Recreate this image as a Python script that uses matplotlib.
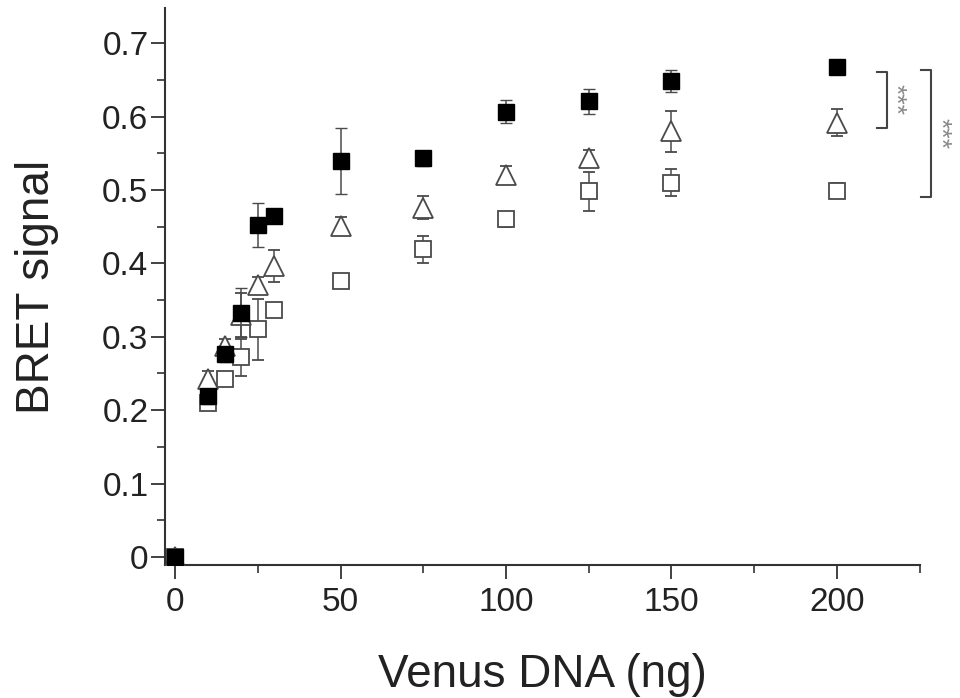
import matplotlib
matplotlib.use("Agg")
import matplotlib.pyplot as plt
from matplotlib.ticker import MultipleLocator

plt.rcParams['font.family'] = ['Liberation Sans', 'DejaVu Sans']

x = [0, 10, 15, 20, 25, 30, 50, 75, 100, 125, 150, 200]
filled_y = [0.0, 0.219, 0.276, 0.333, 0.453, 0.465, 0.540, 0.543, 0.607, 0.621, 0.649, 0.667]
filled_e = [0.0, 0.01, 0.01, 0.033, 0.03, 0.006, 0.045, 0.01, 0.015, 0.017, 0.015, 0.008]
tri_y = [0.0, 0.242, 0.287, 0.330, 0.371, 0.396, 0.451, 0.476, 0.521, 0.544, 0.580, 0.592]
tri_e = [0.01, 0.012, 0.01, 0.03, 0.01, 0.022, 0.012, 0.016, 0.012, 0.01, 0.028, 0.018]
sq_y = [0.0, 0.210, 0.242, 0.272, 0.310, 0.337, 0.376, 0.419, 0.460, 0.498, 0.510, 0.499]
sq_e = [0.005, 0.008, 0.008, 0.025, 0.042, 0.005, 0.008, 0.018, 0.01, 0.026, 0.018, 0.01]

brackets = [(0.585, 0.661), (0.491, 0.664)]
stars = "***"

fig = plt.figure(figsize=(9.6, 6.98), dpi=100)
ax = fig.add_axes([0.172, 0.1905, 0.786, 0.798])

ecol = '#4a4a4a'
ax.errorbar(x, sq_y, yerr=sq_e, fmt='s', ms=12, mfc='white', mec=ecol, mew=1.3,
            ecolor=ecol, elinewidth=1.1, capsize=4, capthick=1.1, zorder=2)
ax.errorbar(x, tri_y, yerr=tri_e, fmt='^', ms=15, mfc='white', mec=ecol, mew=1.3,
            ecolor=ecol, elinewidth=1.1, capsize=4, capthick=1.1, zorder=3)
ax.errorbar(x, filled_y, yerr=filled_e, fmt='s', ms=12, mfc='black', mec='black', mew=1,
            ecolor=ecol, elinewidth=1.1, capsize=4, capthick=1.1, zorder=4)

ax.set_xlim(-3, 225)
ax.set_ylim(-0.011, 0.748)
ax.xaxis.set_major_locator(MultipleLocator(50))
ax.xaxis.set_minor_locator(MultipleLocator(25))
ax.yaxis.set_minor_locator(MultipleLocator(0.05))
ax.set_yticks([0, 0.1, 0.2, 0.3, 0.4, 0.5, 0.6, 0.7])
ax.set_yticklabels(['0', '0.1', '0.2', '0.3', '0.4', '0.5', '0.6', '0.7'])

for s in ['top', 'right']:
    ax.spines[s].set_visible(False)
for s in ['left', 'bottom']:
    ax.spines[s].set_linewidth(1.5)
    ax.spines[s].set_color('#333333')

ax.tick_params(which='major', length=10, width=1.3, labelsize=24, colors='#333333', labelcolor='#222222')
ax.tick_params(which='minor', length=6, width=1.2, colors='#333333')
ax.tick_params(axis='x', pad=6)
ax.tick_params(axis='y', pad=2)

ax.set_xlabel('Venus DNA (ng)', fontsize=33, color='#222222', labelpad=25)
ax.set_ylabel('BRET signal', fontsize=33, color='#222222', labelpad=31)

# significance brackets
for (lo, hi), xb, xs in zip(brackets, [215.0, 228.4], [217.6, 230.9]):
    ax.plot([xb - 3, xb, xb, xb - 3], [hi, hi, lo, lo], color='#444444', lw=1.5,
            clip_on=False, zorder=5)
    ax.text(xs, (lo + hi) / 2, stars, rotation=270, ha='center', va='center',
            fontsize=19, color='#888888', clip_on=False)

fig.savefig('out.png', dpi=100)
